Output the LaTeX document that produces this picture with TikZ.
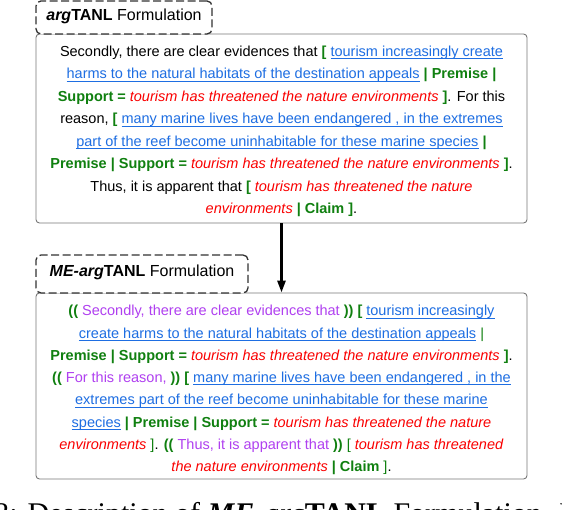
\documentclass[tikz,border=0pt]{standalone}
\usepackage{fontspec}
\setmainfont{Liberation Sans}
\newfontfamily\capfont{Liberation Serif}
\usetikzlibrary{arrows.meta}
\definecolor{ublue}{RGB}{30,110,226}
\definecolor{ggreen}{RGB}{16,128,16}
\definecolor{rred}{RGB}{250,0,0}
\definecolor{ppurple}{RGB}{176,64,240}
\definecolor{boxgray}{RGB}{120,120,120}
\definecolor{tabgray}{RGB}{50,50,50}
\newcommand{\myul}[1]{\setbox0\hbox{#1}\rlap{\rule[-2.6pt]{\wd0}{0.9pt}}\box0}
\newcommand{\GRN}[1]{\textcolor{ggreen}{\textbf{#1}}}
\newcommand{\GRNn}[1]{\textcolor{ggreen}{#1}}
\newcommand{\RED}[1]{\textcolor{rred}{\textit{#1}}}
\newcommand{\BLU}[1]{\textcolor{ublue}{\myul{#1}}}
\newcommand{\PUR}[1]{\textcolor{ppurple}{#1}}
\begin{document}
\begin{tikzpicture}[x=1pt,y=-1pt,
  ln/.style={anchor=base,inner sep=0pt,font=\fontsize{14.5}{17}\selectfont},
  ttl/.style={anchor=base,inner sep=0pt,font=\fontsize{16}{19}\selectfont},
  mainbox/.style={draw=boxgray,line width=0.9pt,rounded corners=3.5pt,fill=white,inner sep=0pt},
  tabbox/.style={draw=tabgray,line width=1.3pt,dash pattern=on 8pt off 3.5pt,rounded corners=5pt,fill=white,inner sep=0pt},
  arr/.style={line width=2.6pt,-{Triangle[length=12pt,width=8pt]}},
  capt/.style={anchor=base west,inner sep=0pt,font=\capfont\fontsize{30}{34}\selectfont}]
\useasboundingbox (0,0) rectangle (562,510);
\clip (0,0) rectangle (562,510);

% boxes
\node[mainbox,minimum width=491pt,minimum height=189pt] (box1) at (281.5,128.5) {};
\node[tabbox,minimum width=176pt,minimum height=33pt] (tab1) at (124,17.5) {};
\node[mainbox,minimum width=491pt,minimum height=186pt] (box2) at (281.5,386) {};
\node[tabbox,minimum width=212pt,minimum height=38pt] (tab2) at (142,274) {};

\draw[arr] (box1.south) -- (box2.north);

% titles
\node[ttl] (t1) at (124,20.7) {\textbf{\textit{arg}TANL} Formulation};
\node[ttl] (t2) at (142,276.7) {\textbf{\textit{ME-arg}TANL} Formulation};

% box 1 text
\node[ln] (a1) at (281.5,56.5) {Secondly, there are clear evidences that \GRN{[} \BLU{tourism increasingly create}};
\node[ln] (a2) at (281.5,79) {\BLU{harms to the natural habitats of the destination appeals} \GRN{| Premise |}};
\node[ln] (a3) at (281.5,101.5) {\GRN{Support =} \RED{tourism has threatened the nature environments} \GRN{]}. For this};
\node[ln] (a4) at (281.5,124) {reason, \GRN{[} \BLU{many marine lives have been endangered , in the extremes}};
\node[ln] (a5) at (281.5,146.5) {\BLU{part of the reef become uninhabitable for these marine species} \GRN{|}};
\node[ln] (a6) at (281.5,169) {\GRN{Premise | Support =} \RED{tourism has threatened the nature environments} \GRN{]}.};
\node[ln] (a7) at (281.5,191.5) {Thus, it is apparent that \GRN{[} \RED{tourism has threatened the nature}};
\node[ln] (a8) at (281.5,214) {\RED{environments} \GRN{| Claim ]}.};

% box 2 text
\node[ln] (b1) at (281.5,316) {\GRN{((} \PUR{Secondly, there are clear evidences that} \GRN{))} \GRN{[} \BLU{tourism increasingly}};
\node[ln] (b2) at (281.5,338.2) {\BLU{create harms to the natural habitats of the destination appeals} \GRNn{|}};
\node[ln] (b3) at (281.5,360.5) {\GRN{Premise | Support =} \RED{tourism has threatened the nature environments} \GRN{]}.};
\node[ln] (b4) at (281.5,382.7) {\GRN{((} \PUR{For this reason,} \GRN{))} \GRN{[} \BLU{many marine lives have been endangered , in the}};
\node[ln] (b5) at (281.5,404.9) {\BLU{extremes part of the reef become uninhabitable for these marine}};
\node[ln] (b6) at (281.5,427.1) {\BLU{species} \GRN{| Premise | Support =} \RED{tourism has threatened the nature}};
\node[ln] (b7) at (281.5,449.4) {\RED{environments} \GRNn{]}. \GRN{((} \PUR{Thus, it is apparent that} \GRN{))} \GRNn{[} \RED{tourism has threatened}};
\node[ln] (b8) at (281.5,471.6) {\RED{the nature environments} \GRN{| Claim} \GRNn{]}.};

% caption, cut off by the lower edge as in the reference
\node[capt] (cap) at (-5.8,523) {3: Description of \textbf{\textit{ME}}-\textit{arg}\textbf{TANL} Formulation. M};
\end{tikzpicture}
\end{document}
